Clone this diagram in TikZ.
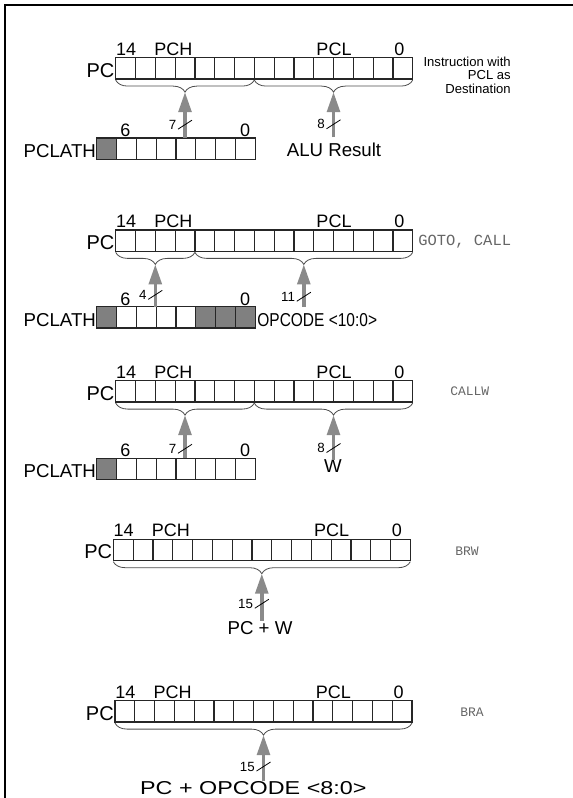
\documentclass[tikz,border=0pt]{standalone}
\usepackage{fontspec}
\setmainfont{Liberation Sans}
\setmonofont{Liberation Mono}
\usetikzlibrary{positioning,calc,arrows.meta,decorations.pathreplacing,backgrounds}

\definecolor{cellfill}{RGB}{128,128,128}
\definecolor{busgray}{RGB}{138,138,138}

\tikzset{
	cell/.style={draw=black!85, line width=0.9pt, minimum width=14.85pt, minimum height=16pt, inner sep=0pt, outer sep=0pt},
	big/.style={font=\fontsize{14}{16}\selectfont, inner sep=0pt},
	bitno/.style={font=\fontsize{13.5}{15}\selectfont, inner sep=0pt, anchor=base},
	busw/.style={font=\fontsize{10}{12}\selectfont, inner sep=0pt, anchor=base east},
	mnem/.style={font=\ttfamily\fontsize{9.75}{11}\selectfont, text=black!60, inner sep=0pt, anchor=west},
	note/.style={font=\fontsize{9.8}{10.1}\selectfont, inner sep=0pt, align=right},
	brc/.style={draw=black!70, line width=0.6pt, decorate, decoration={brace, mirror, amplitude=9pt, raise=0.8pt}},
	bus/.style={draw=busgray, line width=2.6pt, -{Triangle[width=9.5pt, length=15pt]}},
	slash/.style={draw=black, line width=0.6pt},
	src/.style={outer ysep=4.5pt},
}

% register of #4 cells, top left corner at (#2,#3)
\newcommand{\register}[4]{%
	\node[cell, anchor=north west] (#1-1) at (#2,#3) {};
	\foreach \i [remember=\i as \j (initially 1)] in {2,...,#4}
		\node[cell, right=0pt of #1-\j] (#1-\i) {};
}

% PC register with its labels
\newcommand{\pcregister}[3]{%
	\register{#1}{#2}{#3}{15}
	\node[big, font=\fontsize{15}{17}\selectfont, anchor=base east] (#1-name) at ($(#1-1.south west)+(-1,-2)$) {PC};
	\node[bitno] (#1-msb) at ($(#1-1.north)+(0.5,-2.5)$) {14};
	\node[bitno] (#1-hi) at ($(#1-4.north west)+(-1.8,-2.5)$) {PCH};
	\node[bitno] (#1-lo) at ($(#1-12.north west)+(0.5,-2.5)$) {PCL};
	\node[bitno] (#1-lsb) at ($(#1-15.north)+(-3.5,-2.5)$) {0};
}

% PCLATH register with its labels
\newcommand{\lathregister}[3]{%
	\register{#1}{#2}{#3}{8}
	\node[big, anchor=base east] (#1-name) at ($(#1-1.south west)+(-0.5,-2)$) {PCLATH};
	\node[bitno] (#1-msb) at ($(#1-2.north)+(-1,-1.5)$) {6};
	\node[bitno] (#1-lsb) at ($(#1-8.north)+(0,-1.5)$) {0};
}

% width mark on a bus
\newcommand{\busmark}[2]{%
	\draw[slash] ($(#1)+(-7,4.5)$) -- ($(#1)+(7,-4.5)$);
	\node[busw] (#1-w) at ($(#1)+(-8.5,4.5)$) {#2};
}

\begin{document}
\begin{tikzpicture}[x=0.75pt, y=-0.75pt]
	\useasboundingbox (0,0) rectangle (573,798);
	% frame, only top and left edges show
	\draw[line width=1.9pt] (5,798) -- (5,5) -- (573,5);
	
	% PCL as destination
	\pcregister{pcA}{115.7}{57.7}
	\lathregister{lathA}{96.7}{138}
	\node[note, anchor=east] (noteA) at (511,75) {Instruction with\\PCL as\\Destination};
	\draw[brc] (pcA-1.south west) -- (pcA-7.south east);
	\draw[brc] (pcA-8.south west) -- (pcA-15.south east);
	\coordinate (pcA-hitip) at ($(pcA-1.south west)!0.5!(pcA-7.south east)+(0,13)$);
	\coordinate (pcA-lotip) at ($(pcA-8.south west)!0.5!(pcA-15.south east)+(0,13)$);
	\node[big, src, anchor=base] (alu) at (334,157) {ALU Result};
	\draw[bus] (pcA-hitip |- lathA-5.north) -- coordinate[pos=0.29] (busA1) (pcA-hitip);
	\busmark{busA1}{7}
	\draw[bus] (pcA-lotip |- alu.north) -- coordinate[pos=0.29] (busA2) (pcA-lotip);
	\busmark{busA2}{8}
	
	% GOTO, CALL
	\pcregister{pcB}{115.7}{230}
	\lathregister{lathB}{96.7}{306.7}
	\node[mnem, font=\ttfamily\fontsize{11.6}{13}\selectfont] (mnB) at (418,241.7) {GOTO, CALL};
	\draw[brc] (pcB-1.south west) -- (pcB-4.south east);
	\draw[brc] (pcB-5.south west) -- (pcB-15.south east);
	\coordinate (pcB-hitip) at ($(pcB-1.south west)!0.5!(pcB-4.south east)+(0,13)$);
	\coordinate (pcB-lotip) at ($(pcB-5.south west)!0.5!(pcB-15.south east)+(0,13)$);
	\node[big, src, anchor=base west] (opB) at ($(lathB-8.south east)+(2,-2)$) {\scalebox{0.83}[1]{OPCODE <10:0>}};
	\draw[bus] (pcB-hitip |- lathB-1.north) -- coordinate[pos=0.28] (busB1) (pcB-hitip);
	\busmark{busB1}{4}
	\draw[bus] (pcB-lotip |- opB.north) -- coordinate[pos=0.24] (busB2) (pcB-lotip);
	\busmark{busB2}{11}
	
	% CALLW
	\pcregister{pcC}{115.7}{380.7}
	\lathregister{lathC}{96.7}{458.3}
	\node[mnem] (mnC) at (450,391.7) {CALLW};
	\draw[brc] (pcC-1.south west) -- (pcC-7.south east);
	\draw[brc] (pcC-8.south west) -- (pcC-15.south east);
	\coordinate (pcC-hitip) at ($(pcC-1.south west)!0.5!(pcC-7.south east)+(0,13)$);
	\coordinate (pcC-lotip) at ($(pcC-8.south west)!0.5!(pcC-15.south east)+(0,13)$);
	\node[big, anchor=base] (wC) at (333,472.7) {W};
	\draw[bus] (pcC-hitip |- lathC-5.north) -- coordinate[pos=0.22] (busC1) (pcC-hitip);
	\busmark{busC1}{7}
	\draw[bus] (pcC-lotip |- wC.north) -- coordinate[pos=0.26] (busC2) (pcC-lotip);
	\busmark{busC2}{8}
	
	% BRW
	\pcregister{pcD}{113.3}{539.3}
	\node[mnem] (mnD) at (455,551.7) {BRW};
	\draw[brc] (pcD-1.south west) -- (pcD-15.south east);
	\coordinate (pcD-tip) at ($(pcD-1.south west)!0.5!(pcD-15.south east)+(0,13)$);
	\node[big, anchor=base] (sumD) at (260,634) {PC + W};
	\draw[bus] (pcD-tip |- sumD.north) -- coordinate[pos=0.36] (busD) (pcD-tip);
	\busmark{busD}{15}
	
	% BRA
	\pcregister{pcE}{115}{700.7}
	\node[mnem] (mnE) at (460,712.7) {BRA};
	\draw[brc] (pcE-1.south west) -- (pcE-15.south east);
	\coordinate (pcE-tip) at ($(pcE-1.south west)!0.5!(pcE-15.south east)+(0,13)$);
	\node[big, anchor=base] (sumE) at (253.3,794) {\scalebox{1.25}[1]{PC + OPCODE <8:0>}};
	\draw[bus] (pcE-tip |- sumE.north) -- coordinate[pos=0.31] (busE) (pcE-tip);
	\busmark{busE}{15}
	
	% shaded bits of PCLATH
	\begin{scope}[on background layer]
		\foreach \c in {lathA-1, lathB-1, lathB-6, lathB-7, lathB-8, lathC-1}
			\fill[cellfill] (\c.south west) rectangle (\c.north east);
	\end{scope}
\end{tikzpicture}
\end{document}
